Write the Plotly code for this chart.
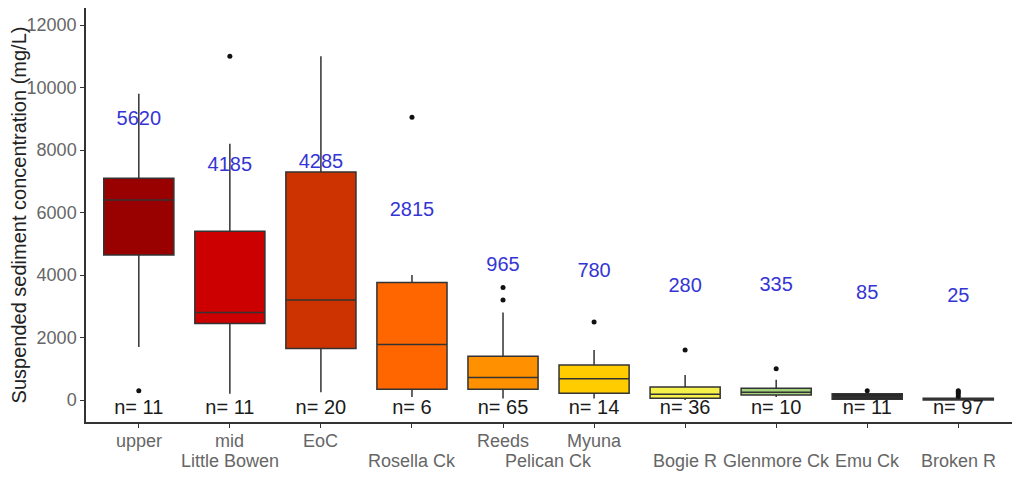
import plotly.graph_objects as go

# sites, left to right
sites = ["upper", "mid", "EoC", "", "Reeds", "Myuna", "", "", "", ""]
creeks = ["Little Bowen", "Rosella Ck", "Pelican Ck", "Bogie R", "Glenmore Ck", "Emu Ck", "Broken R"]
creek_span = [(0, 2), (3, 3), (4, 5), (6, 6), (7, 7), (8, 8), (9, 9)]

# box statistics (mg/L)
lower = [1700, 200, 250, 100, 50, 50, 0, 100, 20, 0]
q1 = [4640, 2450, 1650, 350, 350, 220, 60, 160, 30, 0]
median = [6400, 2800, 3200, 1780, 720, 680, 190, 250, 100, 25]
q3 = [7100, 5400, 7300, 3760, 1400, 1120, 420, 380, 200, 60]
upper = [9800, 8200, 11000, 4000, 2800, 1600, 800, 650, 200, 60]
outliers = [[300], [11000], [], [9050], [3600, 3200], [2500], [1600], [1000], [300], [120, 200, 260, 300]]
n_obs = [11, 11, 20, 6, 65, 14, 36, 10, 11, 97]
mean_vals = [5620, 4185, 4285, 2815, 965, 780, 280, 335, 85, 25]
mean_label_y = [8960, 7500, 7580, 6050, 4290, 4100, 3620, 3650, 3400, 3300]
yticks = [0, 2000, 4000, 6000, 8000, 10000, 12000]

colors = ["#990000", "#CC0000", "#CC3300", "#FF6600", "#FF9100",
          "#FFCC00", "#F5F04A", "#A3D27A", "#262626", "#262626"]

FONT = "Liberation Sans, Arial"

fig = go.Figure()

for i in range(len(sites)):
    fig.add_trace(go.Box(
        x=[i], q1=[q1[i]], median=[median[i]], q3=[q3[i]],
        lowerfence=[lower[i]], upperfence=[upper[i]],
        width=0.77, whiskerwidth=0, fillcolor=colors[i],
        line=dict(color="#333333", width=1.5),
        hoverinfo="skip", showlegend=False
    ))
    if outliers[i]:
        fig.add_trace(go.Scatter(
            x=[i] * len(outliers[i]), y=outliers[i], mode="markers",
            marker=dict(color="#111111", size=5),
            hoverinfo="skip", showlegend=False
        ))

# n= counts under each box
fig.add_trace(go.Scatter(
    x=list(range(len(n_obs))), y=[-290] * len(n_obs), mode="text",
    text=[f"n= {n}" for n in n_obs],
    textfont=dict(family=FONT, size=20, color="#1a1a1a"),
    hoverinfo="skip", showlegend=False
))

# blue mean labels
fig.add_trace(go.Scatter(
    x=list(range(len(mean_vals))), y=mean_label_y, mode="text",
    text=[str(v) for v in mean_vals],
    textfont=dict(family=FONT, size=20, color="#3535D5"),
    hoverinfo="skip", showlegend=False
))

# two-row category labels
for i, s in enumerate(sites):
    if s:
        fig.add_annotation(x=i, y=-0.046, xref="x", yref="paper", text=s,
                           showarrow=False, yanchor="middle",
                           font=dict(family=FONT, size=18, color="#666666"))
for name, (a, b) in zip(creeks, creek_span):
    fig.add_annotation(x=(a + b) / 2, y=-0.094, xref="x", yref="paper", text=name,
                       showarrow=False, yanchor="middle",
                       font=dict(family=FONT, size=18, color="#666666"))

# page body has an 8px margin, so the figure is sized to fit inside it
fig.update_layout(
    width=1016, height=488,
    margin=dict(l=78, r=12, t=0, b=74),
    plot_bgcolor="white", paper_bgcolor="white",
    font=dict(family=FONT, color="#666666"),
    xaxis=dict(
        range=[-0.58, 9.59], tickvals=list(range(len(sites))),
        ticktext=[""] * len(sites), ticks="outside", ticklen=4,
        tickcolor="#333333", showline=True, linecolor="#333333", linewidth=1.5,
        showgrid=False, zeroline=False, automargin=False
    ),
    yaxis=dict(
        range=[-700, 12544], tickvals=yticks, ticktext=[str(v) for v in yticks],
        ticks="outside", ticklen=4, tickcolor="#333333",
        tickfont=dict(size=18, color="#666666"),
        showline=True, linecolor="#333333", linewidth=1.5,
        showgrid=False, zeroline=False, automargin=False,
        title=dict(text="Suspended sediment concentration (mg/L)",
                   font=dict(size=20, color="#222222"), standoff=0)
    )
)

fig.write_html("out.html")
